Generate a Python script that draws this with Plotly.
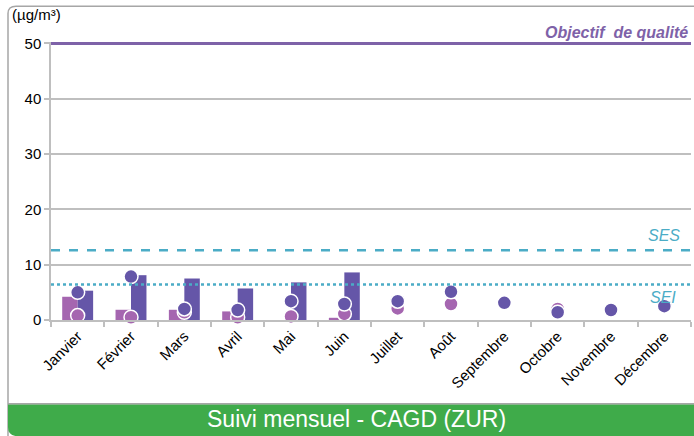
import plotly.graph_objects as go

# Monthly values (µg/m³)
months = ["Janvier", "Février", "Mars", "Avril", "Mai", "Juin", "Juillet",
          "Août", "Septembre", "Octobre", "Novembre", "Décembre"]
bars_light = [4.2, 1.85, 1.85, 1.55, None, 0.4, None, None, None, None, None, None]
bars_dark = [5.3, 8.1, 7.5, 5.7, 6.8, 8.6, None, None, None, None, None, None]
dots_light = [0.8, 0.5, 1.4, 0.5, 0.65, 1.1, 2.1, 2.9, 3.0, 2.0, 1.8, 2.5]
dots_dark = [5.0, 7.85, 2.0, 1.8, 3.4, 2.9, 3.4, 5.1, 3.1, 1.4, 1.8, 2.5]

objectif_qualite = 50
seuil_ses = 12.6
seuil_sei = 6.4

W, H = 694, 436
ML, MR, MT, MB = 51, 3, 41.5, 115.5
PW, PH = W - ML - MR, H - MT - MB

def px(x):
    return (x - ML) / PW

def py(y):
    return 1 - (y - MT) / PH

LIGHT = "#A566B0"
DARK = "#6556A8"
TEAL = "#4BACC6"
PURPLE = "#7E62A8"
GREEN = "#3FAB4A"
GRID = "#BFBFBF"
FONT = "Liberation Sans, Arial"

fig = go.Figure()
fig.add_trace(go.Bar(x=months, y=bars_light, marker=dict(color=LIGHT, line=dict(width=0)),
                     showlegend=False, hoverinfo="skip"))
fig.add_trace(go.Bar(x=months, y=bars_dark, marker=dict(color=DARK, line=dict(width=0)),
                     showlegend=False, hoverinfo="skip"))
fig.add_trace(go.Scatter(x=months, y=dots_light, mode="markers",
                         marker=dict(color=LIGHT, size=14, line=dict(color="white", width=1.5)),
                         showlegend=False, cliponaxis=False))
fig.add_trace(go.Scatter(x=months, y=dots_dark, mode="markers",
                         marker=dict(color=DARK, size=14, line=dict(color="white", width=1.5)),
                         showlegend=False, cliponaxis=False))

# reference thresholds
fig.add_shape(type="line", xref="paper", x0=0, x1=1, yref="y",
              y0=objectif_qualite, y1=objectif_qualite, line=dict(color=PURPLE, width=3))
fig.add_shape(type="line", xref="paper", x0=0, x1=1, yref="y",
              y0=seuil_ses, y1=seuil_ses, line=dict(color=TEAL, width=2.5, dash="dash"))
fig.add_shape(type="line", xref="paper", x0=0, x1=1, yref="y",
              y0=seuil_sei, y1=seuil_sei, line=dict(color=TEAL, width=2.5, dash="dot"))

# outer frame and footer banner
fig.add_shape(type="path", xref="paper", yref="paper",
              path=f"M {px(8)} {py(440)} L {px(8)} {py(13)} Q {px(8)} {py(5.5)} {px(16)} {py(5.5)} L {px(700)} {py(5.5)}",
              line=dict(color="#A6A6A6", width=1.5), layer="below")
fig.add_shape(type="path", xref="paper", yref="paper",
              path=(f"M {px(8)} {py(405)} L {px(700)} {py(405)} L {px(700)} {py(437)} "
                    f"L {px(17)} {py(437)} Q {px(8)} {py(437)} {px(8)} {py(428)} Z"),
              fillcolor=GREEN, line=dict(width=0), layer="above")
fig.add_shape(type="line", xref="paper", yref="paper", x0=px(8), x1=px(700),
              y0=py(404.5), y1=py(404.5), line=dict(color="#A6A6A6", width=1.5))

fig.add_annotation(xref="paper", yref="paper", x=px(356), y=py(420), text="Suivi mensuel - CAGD (ZUR)",
                   showarrow=False, font=dict(family=FONT, size=23, color="white"),
                   xanchor="center", yanchor="middle")
fig.add_annotation(xref="paper", yref="paper", x=px(10), y=py(14), text="(µg/m³)",
                   showarrow=False, font=dict(family=FONT, size=15, color="black"),
                   xanchor="left", yanchor="middle")
fig.add_annotation(xref="paper", yref="paper", x=px(690), y=py(32), text="<b><i>Objectif  de qualité</i></b>",
                   showarrow=False, font=dict(family=FONT, size=16, color=PURPLE),
                   xanchor="right", yanchor="middle")
fig.add_annotation(xref="paper", yref="paper", x=px(682), y=py(236), text="<i>SES</i>",
                   showarrow=False, font=dict(family=FONT, size=16, color=TEAL),
                   xanchor="right", yanchor="middle")
fig.add_annotation(xref="paper", yref="paper", x=px(678), y=py(298), text="<i>SEI</i>",
                   showarrow=False, font=dict(family=FONT, size=16, color=TEAL),
                   xanchor="right", yanchor="middle")

fig.update_layout(
    width=W, height=H, margin=dict(l=ML, r=MR, t=MT, b=MB),
    paper_bgcolor="white", plot_bgcolor="white",
    barmode="group", bargap=0.42, bargroupgap=0,
    font=dict(family=FONT, color="black"),
    xaxis=dict(type="category", range=[-0.5, 11.5], tickangle=-45, tickfont=dict(size=15),
               showline=True, linecolor=GRID, linewidth=1.5,
               ticks="outside", tickson="boundaries", ticklen=5, tickcolor=GRID, tickwidth=1.5,
               showgrid=False, fixedrange=True),
    yaxis=dict(range=[0, 50.25], tickvals=[0, 10, 20, 30, 40, 50], tickfont=dict(size=15),
               showline=True, linecolor=GRID, linewidth=1.5,
               ticks="outside", ticklen=5, tickcolor=GRID, tickwidth=1.5,
               showgrid=True, gridcolor=GRID, gridwidth=1.5, zeroline=False, fixedrange=True),
)

fig.write_html("out.html")
